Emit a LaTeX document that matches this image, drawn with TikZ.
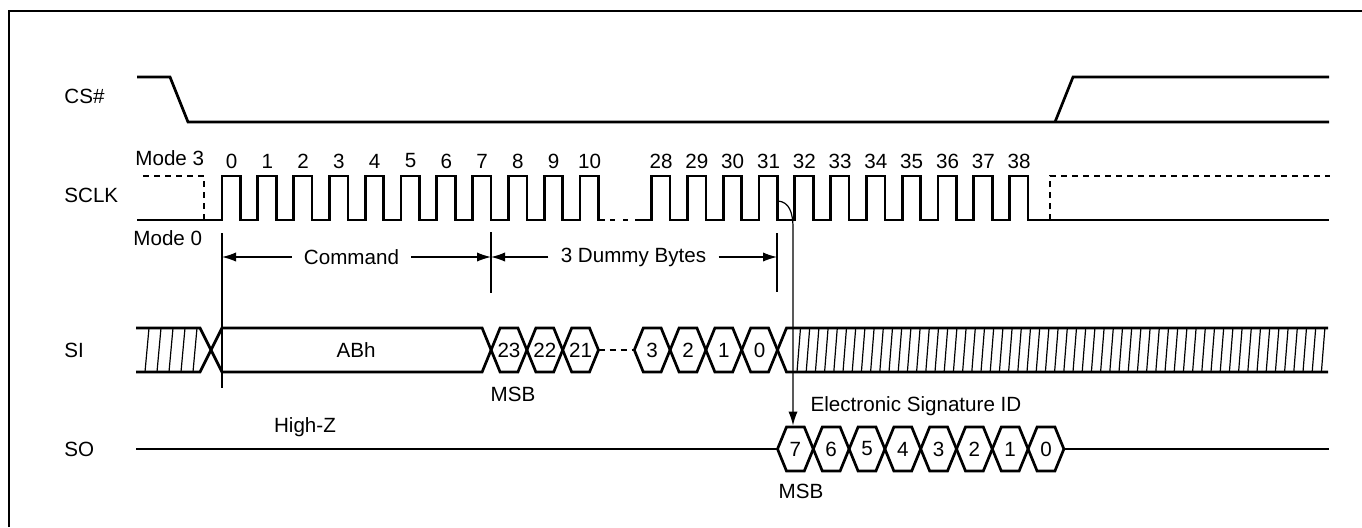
\documentclass[tikz,border=0pt]{standalone}
\usepackage{fontspec}
\setmainfont{Liberation Sans}
\usetikzlibrary{arrows.meta}

\tikzset{
    sig/.style={line width=1.35pt, line join=miter},
    thinline/.style={line width=0.6pt},
    dashsig/.style={sig, dash pattern=on 3pt off 2.5pt},
    lbl/.style={font=\fontsize{10.3}{12}\selectfont, inner sep=0pt},
    dim/.style={thinline, -{Latex[length=7pt,width=4.6pt]}},
}

% one bus cell: left x, centre y, name, text
\newcommand{\hexcell}[4]{%
    \draw[sig] (#1,#2) -- ++(9,-22) -- ++(17.8,0) -- ++(9,22) -- ++(-9,22) -- ++(-17.8,0) -- cycle;
    \node[lbl] (#3) at ({#1+17.9},#2) {#4};}

\begin{document}
\begin{tikzpicture}[x=0.5pt, y=-0.5pt]
    \useasboundingbox (0,0) rectangle (1362,527);
    \draw[line width=1pt] (8.5,527) -- (8.5,11) -- (1362,11);

    % signal names
    \node[lbl, anchor=west] (lcs) at (64,96) {CS\#};
    \node[lbl, anchor=west] (lsclk) at (64,195) {SCLK};
    \node[lbl, anchor=west] (lsi) at (64,350) {SI};
    \node[lbl, anchor=west] (lso) at (64,449) {SO};
    \node[lbl, anchor=west] (mode3) at (135,158) {Mode 3};
    \node[lbl, anchor=west] (mode0) at (133,238) {Mode 0};

    % CS#
    \draw[sig] (137,77) -- (170,77) -- (188,122) -- (1329,122);
    \draw[sig] (1055,122) -- (1073,77) -- (1329,77);

    % SCLK
    \draw[dashsig] (143,176) -- (204,176) -- (204,220);
    \draw[sig] (137,220) foreach \k in {0,...,10} { -- ({222+35.8*\k},220) -- ++(0,-44) -- ++(18.5,0) -- ++(0,44) } -- (605,220);
    \draw[sig, dash pattern=on 2.5pt off 4pt] (610,220) -- (630,220);
    \draw[sig] (635,220) foreach \k in {12,...,22} { -- ({222+35.8*\k},220) -- ++(0,-44) -- ++(18.5,0) -- ++(0,44) } -- (1329,220);
    \draw[dashsig] (1050,220) -- (1050,176) -- (1330,176);
    \foreach \k in {0,...,10} \node[lbl] (c\k) at ({231.5+35.8*\k},161) {\k};
    \foreach \k in {28,...,38} \node[lbl] (c\k) at ({231.5+35.8*(\k-16)},161) {\k};

    % Command / dummy bytes
    \coordinate (tk0) at (222,233);
    \coordinate (tk0e) at (222,388);
    \coordinate (tk1) at (491,232);
    \coordinate (tk1e) at (491,293);
    \coordinate (tk2) at (777,233);
    \coordinate (tk2e) at (777,292);
    \draw[thinline] (tk0) -- (tk0e);
    \draw[thinline] (tk1) -- (tk1e);
    \draw[thinline] (tk2) -- (tk2e);
    \coordinate (a0) at (222,257);
    \coordinate (a1) at (491,257);
    \coordinate (a2) at (777,257);
    \node[lbl, inner xsep=6pt] (cmd) at (351.5,257) {Command};
    \node[lbl, inner xsep=6pt] (dummy) at (633.5,257) {3 Dummy Bytes};
    \draw[dim] (cmd) -- (a0);
    \draw[dim] (cmd) -- (a1);
    \draw[dim] (dummy) -- (a1);
    \draw[dim] (dummy) -- (a2);

    % SI
    \draw[sig] (136,328) -- (200,328) -- (211,350) -- (200,372) -- (136,372);
    \foreach \x in {145,157,...,193} \draw[thinline] (\x,372) -- ++(4,-44);
    \draw[sig] (211,350) -- (222,328) -- (482.1,328) -- (491.1,350) -- (482.1,372) -- (222,372) -- cycle;
    \node[lbl] (abh) at (356,350) {ABh};
    \foreach \t/\k in {23/7,22/8,21/9,3/11,2/12,1/13,0/14} \hexcell{240.5+35.8*\k}{350}{si\t}{\t};
    \draw[dashsig] (598.5,350) -- (634.3,350);
    \draw[sig] (1328,328) -- (786.5,328) -- (777.5,350) -- (786.5,372) -- (1328,372);
    \foreach \x in {797,806.2,...,1322} \draw[thinline] (\x,372) -- ++(3.5,-44);
    \node[lbl] (msb1) at (513,394) {MSB};

    % SO
    \node[lbl] (hiz) at (305,427) {High-Z};
    \draw[sig] (136,449) -- (777.5,449);
    \foreach \t [count=\k from 15] in {7,6,5,4,3,2,1,0} \hexcell{240.5+35.8*\k}{449}{so\t}{\t};
    \draw[sig] (1063.9,449) -- (1329,449);
    \node[lbl] (esid) at (916,406) {Electronic Signature ID};
    \node[lbl] (msb2) at (801,491) {MSB};

    % clock 31 -> SO output
    \coordinate (c31f) at (778,201);
    \coordinate (soin) at (793,425.5);
    \draw[dim] (c31f) .. controls (789,202) and (793,212) .. (793,228) -- (soin);
\end{tikzpicture}
\end{document}
